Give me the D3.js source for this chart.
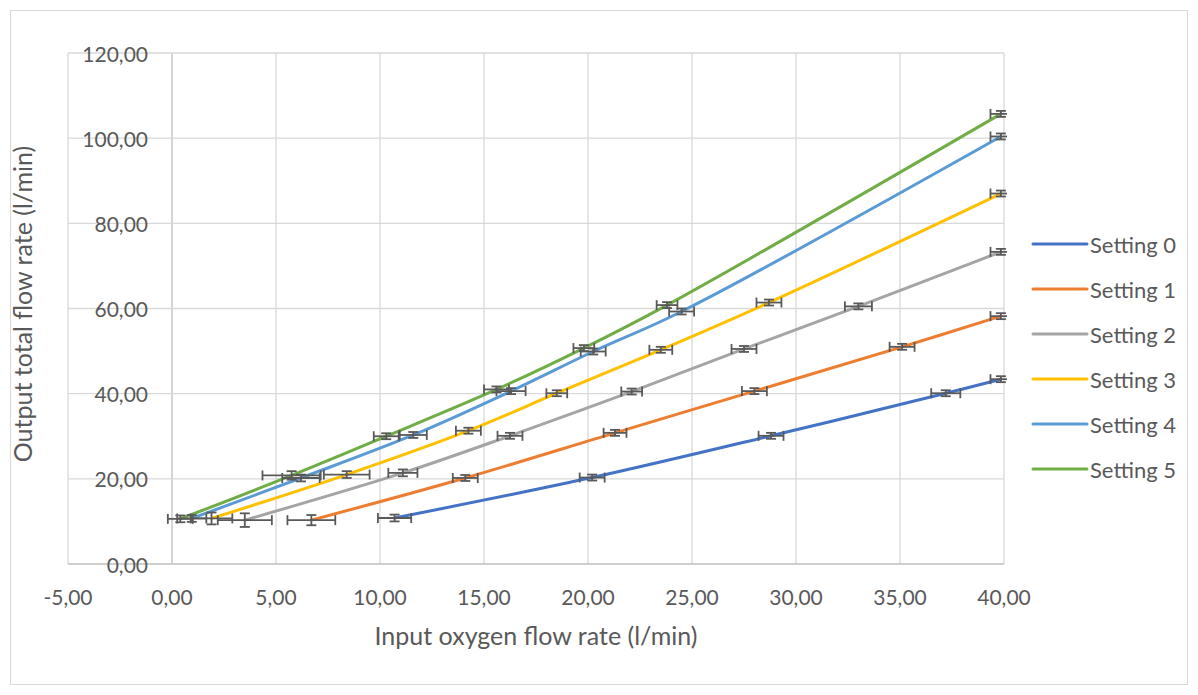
<!DOCTYPE html>
<html>
<head>
<meta charset="utf-8">
<script src="https://cdn.jsdelivr.net/npm/d3@7"></script>
<style>
  body { margin: 0; background: #fff; }
  svg text { font-family: Lato, "Open Sans", sans-serif; fill: #595959; }
</style>
</head>
<body>
<svg id="chart" width="1198" height="695"></svg>
<script>
// series data (l/min)
let seriesNames = ["Setting 0", "Setting 1", "Setting 2", "Setting 3", "Setting 4", "Setting 5"];
let seriesColors = ["#4472C4", "#ED7D31", "#A5A5A5", "#FFC000", "#5B9BD5", "#70AD47"];

let inputFlow = [
    [10.7, 20.2, 28.8, 37.2, 39.85],
    [6.7, 14.1, 21.3, 28.0, 35.1, 39.85],
    [3.5, 11.1, 16.25, 22.1, 27.5, 33.0, 39.85],
    [1.9, 8.4, 14.25, 18.5, 23.5, 28.7, 39.85],
    [0.95, 6.2, 11.6, 16.3, 20.25, 24.5, 39.85],
    [0.4, 5.75, 10.3, 15.6, 19.8, 23.8, 39.85]
];
let outputFlow = [
    [10.8, 20.3, 30.1, 40.1, 43.4],
    [10.3, 20.2, 30.8, 40.6, 51.0, 58.2],
    [10.3, 21.4, 30.1, 40.5, 50.5, 60.5, 73.3],
    [10.7, 21.0, 31.3, 40.1, 50.3, 61.4, 87.0],
    [10.7, 20.2, 30.3, 40.6, 49.9, 59.3, 100.4],
    [10.6, 20.8, 30.0, 41.0, 50.7, 60.8, 105.7]
];
// error bars (+/-)
let inputErr = [
    [0.8, 0.6, 0.6, 0.7, 0.5],
    [1.15, 0.6, 0.55, 0.6, 0.6, 0.5],
    [1.3, 0.7, 0.6, 0.5, 0.6, 0.65, 0.5],
    [1.0, 1.1, 0.6, 0.5, 0.55, 0.6, 0.5],
    [0.7, 0.9, 0.65, 0.7, 0.6, 0.6, 0.5],
    [0.6, 1.4, 0.6, 0.6, 0.5, 0.5, 0.5]
];
let outputErr = [
    [0.8, 0.7, 0.7, 0.7, 0.7],
    [1.2, 0.7, 0.7, 0.7, 0.7, 0.7],
    [1.6, 0.8, 0.7, 0.7, 0.7, 0.7, 0.7],
    [1.4, 0.8, 0.7, 0.7, 0.7, 0.7, 0.7],
    [0.8, 0.8, 0.7, 0.7, 0.7, 0.7, 0.7],
    [0.8, 1.0, 0.7, 0.7, 0.7, 0.7, 0.7]
];

let xTicks = [-5, 0, 5, 10, 15, 20, 25, 30, 35, 40];
let yTicks = [0, 20, 40, 60, 80, 100, 120];
let xTitle = "Input oxygen flow rate (l/min)";
let yTitle = "Output total flow rate (l/min)";

let svg = d3.select("#chart");

// outer chart frame
svg.append("rect")
    .attr("x", 10.5).attr("y", 10.5)
    .attr("width", 1177).attr("height", 674)
    .attr("fill", "#fff")
    .attr("stroke", "#d9d9d9");

let x = d3.scaleLinear().domain([-5, 40]).range([68, 1004]);
let y = d3.scaleLinear().domain([0, 120]).range([564, 53]);

let fr = d3.formatLocale({decimal: ",", thousands: ".", grouping: [3], currency: ["", ""], minus: "-"});
let fmt = fr.format(".2f");

// gridlines
svg.append("g")
    .selectAll("line")
    .data(xTicks)
    .join("line")
    .attr("x1", d => x(d)).attr("x2", d => x(d))
    .attr("y1", y(0)).attr("y2", y(120))
    .attr("stroke", d => d == 0 ? "#bfbfbf" : "#d9d9d9")
    .attr("stroke-width", 1.3);

svg.append("g")
    .selectAll("line")
    .data(yTicks)
    .join("line")
    .attr("x1", x(-5)).attr("x2", x(40))
    .attr("y1", d => y(d)).attr("y2", d => y(d))
    .attr("stroke", d => d == 0 ? "#bfbfbf" : "#d9d9d9")
    .attr("stroke-width", 1.3);

// tick labels
svg.append("g")
    .selectAll("text")
    .data(xTicks)
    .join("text")
    .attr("x", d => x(d))
    .attr("y", 596)
    .attr("text-anchor", "middle")
    .attr("dominant-baseline", "central")
    .attr("font-size", 21)
    .text(d => fmt(d));

svg.append("g")
    .selectAll("text")
    .data(yTicks)
    .join("text")
    .attr("x", 148)
    .attr("y", d => y(d))
    .attr("text-anchor", "end")
    .attr("dominant-baseline", "central")
    .attr("font-size", 21)
    .text(d => fmt(d));

// axis titles
svg.append("text")
    .attr("x", 536).attr("y", 635)
    .attr("text-anchor", "middle")
    .attr("dominant-baseline", "central")
    .attr("font-size", 25)
    .text(xTitle);

svg.append("text")
    .attr("transform", "translate(22,304) rotate(-90)")
    .attr("text-anchor", "middle")
    .attr("dominant-baseline", "central")
    .attr("font-size", 25)
    .text(yTitle);

svg.append("clipPath").attr("id", "plotclip")
    .append("rect")
    .attr("x", x(-5)).attr("y", 40)
    .attr("width", x(40) - x(-5) + 3).attr("height", 540);

let plot = svg.append("g").attr("clip-path", "url(#plotclip)");

let line = d3.line()
    .x(d => x(d[0]))
    .y(d => y(d[1]))
    .curve(d3.curveCatmullRom.alpha(0.5));

seriesNames.forEach(function(name, i){
    let pts = inputFlow[i].map((v, j) => [v, outputFlow[i][j]]);
    plot.append("path")
        .datum(pts)
        .attr("d", line)
        .attr("fill", "none")
        .attr("stroke", seriesColors[i])
        .attr("stroke-width", 3)
        .attr("stroke-linecap", "round");
});

// error bars on top of the lines
let errColor = "#595959";
let cap = 5;
seriesNames.forEach(function(name, i){
    let g = plot.append("g")
        .attr("stroke", errColor)
        .attr("stroke-width", 1.8)
        .attr("fill", "none");
    inputFlow[i].forEach(function(xv, j){
        let yv = outputFlow[i][j];
        let ex = inputErr[i][j], ey = outputErr[i][j];
        let cy = y(yv), cx = x(xv);
        // horizontal bar
        g.append("line").attr("x1", x(xv - ex)).attr("x2", x(xv + ex)).attr("y1", cy).attr("y2", cy);
        g.append("line").attr("x1", x(xv - ex)).attr("x2", x(xv - ex)).attr("y1", cy - cap).attr("y2", cy + cap);
        g.append("line").attr("x1", x(xv + ex)).attr("x2", x(xv + ex)).attr("y1", cy - cap).attr("y2", cy + cap);
        // vertical bar
        g.append("line").attr("x1", cx).attr("x2", cx).attr("y1", y(yv - ey)).attr("y2", y(yv + ey));
        g.append("line").attr("x1", cx - cap).attr("x2", cx + cap).attr("y1", y(yv - ey)).attr("y2", y(yv - ey));
        g.append("line").attr("x1", cx - cap).attr("x2", cx + cap).attr("y1", y(yv + ey)).attr("y2", y(yv + ey));
    });
});

// legend
let legend = svg.append("g")
    .selectAll("g")
    .data(seriesNames)
    .join("g")
    .attr("transform", (d, i) => "translate(1033," + (244 + i * 45) + ")");

legend.append("line")
    .attr("x1", 0).attr("x2", 54)
    .attr("stroke", (d, i) => seriesColors[i])
    .attr("stroke-width", 3)
    .attr("stroke-linecap", "round");

legend.append("text")
    .attr("x", 57)
    .attr("dominant-baseline", "central")
    .attr("font-size", 22)
    .text(d => d);
</script>
</body>
</html>
